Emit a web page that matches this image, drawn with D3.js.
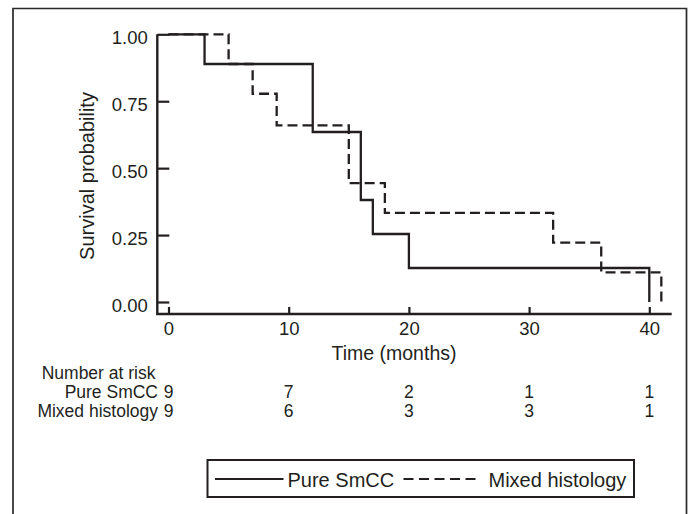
<!DOCTYPE html>
<html>
<head>
<meta charset="utf-8">
<script src="https://cdn.jsdelivr.net/npm/d3@7"></script>
<style>
  html, body { margin: 0; padding: 0; background: #fff; }
  svg { display: block; font-family: "Liberation Sans", Arial, Helvetica, sans-serif; }
</style>
</head>
<body>
<div id="chart"></div>
<script>
// Kaplan-Meier steps
const pureTimes = [0, 3, 12, 16, 17, 20, 40];
const pureSurv = [1, 0.889, 0.635, 0.381, 0.254, 0.127, 0];
const mixedTimes = [0, 5, 7, 9, 15, 18, 32, 36, 41];
const mixedSurv = [1, 0.889, 0.778, 0.66, 0.444, 0.333, 0.222, 0.111, 0];

// number at risk table
const riskTimes = [0, 10, 20, 30, 40];
const pureRisk = [9, 7, 2, 1, 1];
const mixedRisk = [9, 6, 3, 3, 1];

const xTicks = [0, 10, 20, 30, 40];
const yTicks = [0, 0.25, 0.5, 0.75, 1];
const seriesNames = ["Pure SmCC", "Mixed histology"];

const width = 691;
const height = 514;
const ink = "#231f20";

const svg = d3.select("#chart").append("svg")
	.attr("width", width)
	.attr("height", height);

// outer frame (bottom edge is cut off in the original)
svg.append("path")
	.attr("d", "M13,520V8.5H686.5V520")
	.attr("fill", "none")
	.attr("stroke", "#2a2a2a")
	.attr("stroke-width", 1.7);

const x = d3.scaleLinear().domain([0, 40]).range([168.5, 649.3]);
const y = d3.scaleLinear().domain([0, 1]).range([302, 34.3]);
const axisX0 = 157.3;
const axisY0 = 314;

// y axis
const yAxis = svg.append("g")
	.attr("transform", `translate(${axisX0},0)`)
	.call(d3.axisLeft(y).tickValues(yTicks).tickFormat(d3.format(".2f"))
		.tickSizeInner(-12).tickSizeOuter(0).tickPadding(9.5));
yAxis.select(".domain").remove();
yAxis.selectAll(".tick line").attr("stroke", ink).attr("stroke-width", 2.2);
yAxis.selectAll(".tick text")
	.attr("fill", ink)
	.attr("dy", "0.5em")
	.style("font-size", "18.5px");

// x axis
const xAxis = svg.append("g")
	.attr("transform", `translate(0,${axisY0})`)
	.call(d3.axisBottom(x).tickValues(xTicks)
		.tickSizeInner(-7).tickSizeOuter(0).tickPadding(8));
xAxis.select(".domain").remove();
xAxis.selectAll(".tick line").attr("stroke", ink).attr("stroke-width", 2.2);
xAxis.selectAll(".tick text")
	.attr("fill", ink)
	.style("font-size", "18.5px");

// axis lines
svg.append("path")
	.attr("d", `M${axisX0},${y(1)}V${axisY0}H671.7`)
	.attr("fill", "none")
	.attr("stroke", ink)
	.attr("stroke-width", 2.4);

// axis titles
svg.append("text")
	.attr("transform", `translate(94,176) rotate(-90)`)
	.attr("text-anchor", "middle")
	.attr("fill", ink)
	.style("font-size", "20px")
	.text("Survival probability");

svg.append("text")
	.attr("x", 394)
	.attr("y", 360)
	.attr("text-anchor", "middle")
	.attr("fill", ink)
	.style("font-size", "19.5px")
	.text("Time (months)");

// survival curves
const step = d3.line()
	.x((d) => x(d[0]))
	.y((d) => y(d[1]))
	.curve(d3.curveStepAfter);

svg.append("path")
	.datum(mixedTimes.map((t, i) => [t, mixedSurv[i]]))
	.attr("d", step)
	.attr("fill", "none")
	.attr("stroke", ink)
	.attr("stroke-width", 2.3)
	.attr("stroke-dasharray", "10,5");

svg.append("path")
	.datum(pureTimes.map((t, i) => [t, pureSurv[i]]))
	.attr("d", step)
	.attr("fill", "none")
	.attr("stroke", ink)
	.attr("stroke-width", 2.3);

// number at risk
const risk = svg.append("g")
	.attr("fill", ink)
	.style("font-size", "17.5px");

risk.append("text")
	.attr("x", 41.7)
	.attr("y", 379)
	.text("Number at risk");

const riskRows = [
	{ name: seriesNames[0], counts: pureRisk, y: 397.5 },
	{ name: seriesNames[1], counts: mixedRisk, y: 417 }
];

riskRows.forEach((row) => {
	risk.append("text")
		.attr("x", 158)
		.attr("y", row.y)
		.attr("text-anchor", "end")
		.text(row.name);
	risk.selectAll(null)
		.data(row.counts)
		.join("text")
		.attr("x", (d, i) => x(riskTimes[i]))
		.attr("y", row.y)
		.attr("text-anchor", "middle")
		.text((d) => d);
});

// legend
const legend = svg.append("g");
legend.append("rect")
	.attr("x", 207.5)
	.attr("y", 460)
	.attr("width", 426.5)
	.attr("height", 37)
	.attr("fill", "none")
	.attr("stroke", ink)
	.attr("stroke-width", 2);

legend.append("line")
	.attr("x1", 215).attr("x2", 283.5)
	.attr("y1", 479).attr("y2", 479)
	.attr("stroke", ink)
	.attr("stroke-width", 2.2);
legend.append("text")
	.attr("x", 287.5)
	.attr("y", 486.5)
	.attr("fill", ink)
	.style("font-size", "20px")
	.text(seriesNames[0]);

legend.append("line")
	.attr("x1", 403.5).attr("x2", 477)
	.attr("y1", 479).attr("y2", 479)
	.attr("stroke", ink)
	.attr("stroke-width", 2.2)
	.attr("stroke-dasharray", "10,5.5");
legend.append("text")
	.attr("x", 488.5)
	.attr("y", 486.5)
	.attr("fill", ink)
	.style("font-size", "20px")
	.text(seriesNames[1]);
</script>
</body>
</html>
